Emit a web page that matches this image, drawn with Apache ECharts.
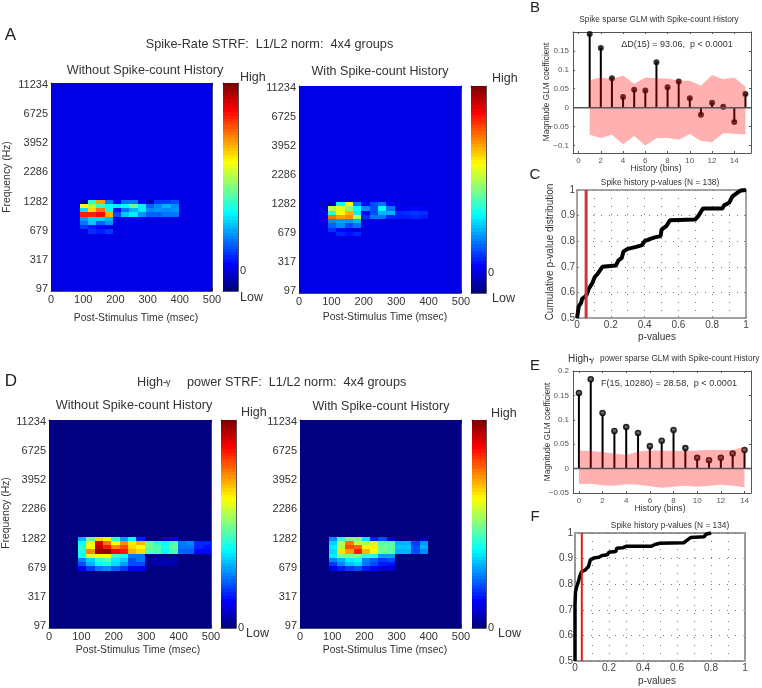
<!DOCTYPE html>
<html>
<head>
<meta charset="utf-8">
<style>html,body{margin:0;padding:0;background:#fff}#c{width:762px;height:688px}</style>
<script src="https://cdn.jsdelivr.net/npm/echarts@6/dist/echarts.min.js"></script>
</head>
<body>
<div id="c"></div>
<script>
// ---------- data ----------
const freqTickLabels = ['97','317','679','1282','2286','3952','6725','11234'];
const timeTicks = [0,100,200,300,400,500];
const firstActiveRow = 28, firstActiveCol = 4;

const strfSpikeWithout = [
 [.05,.42,.72,.25,.13,.24,.24,.13,.06,.18,.18,.20],
 [.62,.55,.42,.38,.36,.38,.47,.36,.22,.26,.30,.26],
 [.35,.66,.76,.38,.14,.24,.30,.36,.26,.27,.26,.27],
 [.85,.84,.87,.70,.20,.32,.36,.27,.22,.22,.24,.24],
 [.28,.33,.33,.30],
 [.24,.32,.22,.27],
 [.18,.15,.13,.10],
 [.10,.17,.15,.18]
];
const strfSpikeWith = [
 [.06,.38,.62,.25,.13,.20,.24,.13,.10,.10,.10,.10],
 [.55,.60,.50,.38,.26,.20,.38,.24,.10,.12,.13,.12],
 [.42,.62,.70,.36,.12,.20,.30,.30,.16,.17,.18,.17],
 [.76,.72,.74,.55,.17,.24,.24,.16,.15,.15,.16,.15],
 [.26,.28,.27,.30],
 [.22,.26,.20,.24],
 [.17,.13,.12,.10],
 [.10,.16,.14,.16]
];
const strfPowerWithout = [
 [.30,.48,.66,.64,.42,.28,.38,.15,0,0,.07,.10,.02],
 [.38,.60,.90,.76,.62,.74,.64,.70,.48,.42,.38,.45,.24,.26,.16,.16],
 [.42,.62,.94,.85,.74,.80,.66,.62,.48,.45,.40,.47,.24,.24,.16,.14],
 [.40,.74,.97,.98,.88,.85,.70,.66,.46,.45,.37,.44,.22,.22,.13,.13],
 [.40,.60,.62,.62,.44,.40,.24,.24],
 [.25,.33,.42,.46,.36,.33,.20,.24,.02,.04,.05,.05],
 [.20,.30,.38,.40,.34,.28,.20,.20,.02,.05,.05,.04],
 [.12,.18,.24,.26,.22,.18,.12,.12]
];
const strfPowerWith = [
 [.26,.42,.50,.50,.35,.15,.20,.08,0,0,0,.05],
 [.33,.55,.76,.56,.55,.58,.46,.46,.30,.30,.18,.27],
 [.36,.55,.80,.78,.62,.64,.48,.47,.32,.32,.20,.30],
 [.34,.65,.72,.85,.70,.62,.48,.46,.30,.30,.20,.26],
 [.36,.50,.50,.50,.42,.40,.28,.28],
 [.25,.30,.36,.38,.25,.22,.18,.20],
 [.18,.26,.32,.34,.24,.20,.15,.14],
 [.10,.15,.18,.20,.15,.12,.08,.08]
];

const histBinsB = [1,2,3,4,5,6,7,8,9,10,11,12,13,14,15];
const coefB = [.195,.158,.078,.028,.047,.045,.12,.054,.069,.025,-.019,.013,.002,-.038,.036];
const bandUpB = [.073,.080,.076,.085,.063,.080,.078,.077,.072,.071,.058,.086,.075,.080,.055];
const bandLowB = [-.072,-.080,-.072,-.097,-.075,-.100,-.081,-.080,-.085,-.070,-.088,-.091,-.068,-.069,-.071];

const histBinsE = [0,1,2,3,4,5,6,7,8,9,10,11,12,13,14];
const coefE = [.155,.183,.114,.077,.085,.073,.046,.057,.079,.042,.022,.017,.022,.031,.038];
const bandUpE = [.037,.036,.034,.031,.028,.035,.037,.037,.036,.036,.037,.038,.038,.038,.045];
const bandLowE = [-.032,-.031,-.034,-.035,-.032,-.033,-.036,-.039,-.037,-.035,-.037,-.035,-.033,-.035,-.038];

const cdfC = [[0,.5],[.005,.52],[.01,.545],[.025,.56],[.03,.575],[.05,.585],[.06,.595],[.07,.615],[.09,.635],[.105,.66],[.125,.675],[.15,.70],[.16,.705],[.23,.705],[.245,.725],[.265,.735],[.275,.76],[.3,.77],[.35,.778],[.385,.785],[.4,.8],[.43,.808],[.46,.815],[.495,.82],[.5,.845],[.53,.86],[.55,.882],[.7,.885],[.72,.9],[.745,.928],[.86,.928],[.87,.94],[.9,.95],[.92,.975],[.95,.99],[.97,.998],[1,1]];
const cdfF = [[0,.5],[0,.72],[.003,.77],[.01,.79],[.02,.81],[.03,.835],[.04,.85],[.06,.855],[.08,.87],[.09,.895],[.11,.902],[.14,.905],[.16,.912],[.19,.915],[.2,.925],[.24,.928],[.245,.94],[.28,.942],[.3,.948],[.45,.948],[.47,.955],[.5,.96],[.64,.962],[.66,.972],[.68,.982],[.76,.985],[.77,.995],[.8,1]];
const alphaC = .054, alphaF = .04;
const pTicks = [0,.2,.4,.6,.8,1];

// ---------- helpers ----------
const FONT = '"Liberation Sans", Arial, Helvetica, sans-serif';
const rowsMax = 49, colsStep = 500 / 19.5;
const clamp = v => Math.max(0, Math.min(1, v));
function jet(v){
  const f = c => Math.round(255 * clamp(1.5 - Math.abs(4 * v - c)));
  return 'rgb(' + f(3) + ',' + f(2) + ',' + f(1) + ')';
}
function snapRect(a, b){
  const x0 = Math.round(a[0]), y0 = Math.round(a[1]), x1 = Math.round(b[0]), y1 = Math.round(b[1]);
  return {x:x0, y:y0, width:x1 - x0, height:y1 - y0};
}
const grids = [], xAxes = [], yAxes = [], series = [], texts = [];
function txt(x, y, text, size, o){
  o = o || {};
  texts.push({type:'text', x, y, rotation:o.rot || 0, silent:true, z:20,
    style:{text, fill:o.color || '#333', font:size + 'px ' + FONT, textAlign:o.align || 'center', textVerticalAlign:'middle', verticalAlign:'middle'}});
}
function addBox(r, xc, yc, style){
  const gi = grids.length;
  grids.push({left:r[0], top:r[1], width:r[2]-r[0], height:r[3]-r[1], containLabel:false});
  const col = style.line, lw = style.lineWidth || 1, tl = style.tickLen === undefined ? 3 : style.tickLen;
  const lab = {show:true, color:style.labelColor || '#444', fontFamily:FONT, fontSize:style.fontSize, margin:style.margin === undefined ? 3 : style.margin};
  const base = {gridIndex:gi, type:'value', axisLine:{show:true, onZero:false, lineStyle:{color:col, width:lw}}, splitLine:{show:false}};
  const tick = {show:tl > 0, inside:true, length:tl, lineStyle:{color:style.tick || col, width:1}};
  const mk = (c, pos, main) => {
    const a = Object.assign({}, base, {position:pos, min:c.min, max:c.max});
    a.axisTick = Object.assign({}, tick);
    if (c.custom) a.axisTick.customValues = c.custom;
    if (c.interval) a.interval = c.interval;
    a.axisLabel = main ? Object.assign({}, lab) : {show:false};
    if (main && c.custom) a.axisLabel.customValues = c.custom;
    if (main && c.formatter) a.axisLabel.formatter = c.formatter;
    if (main && !c.formatter) a.axisLabel.formatter = v => String(+(+v).toFixed(3)).replace('-', '\u2212');
    if (main) { a.axisLabel.showMinLabel = true; a.axisLabel.showMaxLabel = true; a.axisLabel.hideOverlap = false; }
    return a;
  };
  const xi = xAxes.length, yi = yAxes.length;
  xAxes.push(mk(xc, 'bottom', true));
  const xt = mk(xc, 'top', false);
  yAxes.push(mk(yc, 'left', true));
  const yr = mk(yc, 'right', false);
  if (style.dotted) {
    xt.axisTick = {show:false};
    xt.interval = .1;
    xt.splitLine = {show:true, lineStyle:{color:'#777', width:1, type:[1,7]}};
    yr.interval = .1;
    yr.axisTick = {show:true, inside:true, length:tl, lineStyle:{color:col}};
    yr.splitLine = {show:true, lineStyle:{color:'#777', width:1, type:[1,7]}};
  }
  if (style.lineTop) xt.axisLine.lineStyle = {color:style.lineTop, width:style.lineTopWidth || lw};
  if (style.lineRight) yr.axisLine.lineStyle = {color:style.lineRight, width:style.lineRightWidth || lw};
  if (style.lineBottom) xAxes[xi].axisLine.lineStyle = {color:style.lineBottom, width:lw};
  xAxes.push(xt); yAxes.push(yr);
  return {xi, yi};
}

function strfPanel(rect, rows, bg){
  const tickPos = freqTickLabels.map((_, i) => .5 + i * 48 / 7);
  const ids = addBox(rect,
    {min:0, max:500, interval:100},
    {min:0, max:rowsMax, custom:tickPos, formatter:v => freqTickLabels[Math.round((v - .5) * 7 / 48)]},
    {line:'#3c4a78', tick:'#223', fontSize:11, labelColor:'#333', margin:3, tickLen:3});
  const data = [];
  for (let r = 0; r <= rowsMax; r++) for (let c = 0; c < 20; c++) {
    const row = rows[r - firstActiveRow];
    let v = row ? row[c - firstActiveCol] : undefined;
    if (v === undefined) v = bg;
    data.push([c * colsStep, rowsMax - r, v]);
  }
  series.push({type:'custom', xAxisIndex:ids.xi, yAxisIndex:ids.yi, coordinateSystem:'cartesian2d', clip:true, silent:true, z:1,
    encode:{x:0, y:1}, data,
    renderItem(params, api){
      const a = api.coord([api.value(0) - colsStep / 2, api.value(1) + .5]);
      const b = api.coord([api.value(0) + colsStep / 2, api.value(1) - .5]);
      const cs = params.coordSys;
      const clipped = echarts.graphic.clipRectByRect({x:a[0], y:a[1], width:b[0]-a[0], height:b[1]-a[1]},
        {x:cs.x, y:cs.y, width:cs.width, height:cs.height});
      if (!clipped) return;
      return {type:'rect', shape:snapRect([clipped.x, clipped.y], [clipped.x + clipped.width, clipped.y + clipped.height]),
        style:{fill:jet(api.value(2)), stroke:null}};
    }});
}
function colorbar(rect, ticks){
  const ids = addBox(rect, {min:0, max:1, custom:[]}, {min:0, max:1, custom:ticks, formatter:() => ''},
    {line:'#555', tick:'#222', fontSize:1, tickLen:2});
  xAxes[ids.xi].axisLabel = {show:false};
  xAxes[ids.xi].axisTick = {show:false};
  xAxes[ids.xi + 1].axisTick = {show:false};
  yAxes[ids.yi].axisLabel = {show:false};
  const levels = [];
  for (let i = 0; i < 64; i++) levels.push([.5, (i + .5) / 64, i / 63]);
  series.push({type:'custom', xAxisIndex:ids.xi, yAxisIndex:ids.yi, coordinateSystem:'cartesian2d', silent:true, z:1,
    encode:{x:0, y:1}, data:levels,
    renderItem(params, api){
      const a = api.coord([0, api.value(1) + 1/128]), b = api.coord([1, api.value(1) - 1/128]);
      return {type:'rect', shape:snapRect(a, b), style:{fill:jet(api.value(2)), stroke:null}};
    }});
}
function stemPanel(rect, bins, coef, up, low, xc, yc, open){
  const ids = addBox(rect, xc, yc, {line:'#555', fontSize:8, labelColor:'#555', margin:4, tickLen:2});
  const axes = {xAxisIndex:ids.xi, yAxisIndex:ids.yi, silent:true};
  const pts = bins.map((b, i) => [b, coef[i]]);
  series.push(Object.assign({type:'bar', barWidth:2, itemStyle:{color:'#000'}, data:pts, z:2}, axes));
  series.push(Object.assign({type:'scatter', symbolSize:open ? 5 : 6,
    itemStyle:open ? {color:'#555', borderColor:'#000', borderWidth:1.6} : {color:'#000'}, data:pts, z:3, clip:false}, axes));
  [up, low].forEach(arr => series.push(Object.assign({type:'line', symbol:'none', lineStyle:{width:0},
    areaStyle:{color:'rgba(255,0,0,0.31)', opacity:1}, data:bins.map((b, i) => [b, arr[i]]), z:4}, axes)));
  series.push(Object.assign({type:'line', symbol:'none', lineStyle:{color:'#555', width:1.5},
    data:[[xc.min, 0], [xc.max, 0]], z:5}, axes));
}
function cdfPanel(rect, curve, alpha, st){
  const ids = addBox(rect, {min:0, max:1, custom:pTicks}, {min:.5, max:1, interval:.1},
    Object.assign({fontSize:10, labelColor:'#444', margin:2, dotted:true, tickLen:2}, st));
  const axes = {xAxisIndex:ids.xi, yAxisIndex:ids.yi, silent:true, symbol:'none'};
  series.push(Object.assign({type:'line', data:curve, lineStyle:{color:'#000', width:st.curveWidth}, z:3, clip:false}, axes));
  series.push(Object.assign({type:'line', data:[[alpha, .5], [alpha, 1]], lineStyle:{color:st.red, width:st.redWidth}, z:4}, axes));
}

// ---------- layout ----------
strfPanel([51,83,212,291], strfSpikeWithout, .1);
colorbar([223,83,238,291], [.0976,.3,.5,.7,.9]);
strfPanel([299,86,461,293], strfSpikeWith, .1);
colorbar([471,86,486,293], [.0976,.3,.5,.7,.9]);
strfPanel([49,420,211,628], strfPowerWithout, 0);
colorbar([221,420,236,628], [.125,.25,.375,.5,.625,.75,.875]);
strfPanel([300,420,461,628], strfPowerWith, 0);
colorbar([472,420,486,628], [.125,.25,.375,.5,.625,.75,.875]);

const evens = [0,2,4,6,8,10,12,14];
stemPanel([573,32,751,153], histBinsB, coefB, bandUpB, bandLowB,
  {min:-.5, max:15.5, custom:evens}, {min:-.12, max:.2, custom:[-.1,-.05,0,.05,.1,.15]}, false);
stemPanel([573,371,751,493], histBinsE, coefE, bandUpE, bandLowE,
  {min:-.5, max:14.55, custom:evens.concat()}, {min:-.05, max:.2, interval:.05}, true);
cdfPanel([577,190,746,318], cdfC, alphaC, {line:'#888', lineWidth:1.5, curveWidth:4, red:'#c8383c', redWidth:3});
cdfPanel([575,533,745,661], cdfF, alphaF, {line:'#bbb', lineTop:'#777', lineTopWidth:1.5, curveWidth:3.5, red:'#e8181c', redWidth:2});

// ---------- text ----------
txt(10.5, 35, 'A', 17, {color:'#222'});
txt(11, 381, 'D', 17, {color:'#222'});
txt(535, 8, 'B', 15, {color:'#222'});
txt(535, 175, 'C', 15, {color:'#222'});
txt(535, 366, 'E', 15, {color:'#222'});
txt(535, 517, 'F', 15, {color:'#222'});

txt(269.5, 44, 'Spike-Rate STRF:  L1/L2 norm:  4x4 groups', 12.7);
txt(145, 70, 'Without Spike-count History', 12.7);
txt(380, 72, 'With Spike-count History', 12.5);
txt(137, 382, 'High-', 12.7, {align:'left'});
txt(166, 383, '\u03b3', 9, {align:'left'});
txt(187, 382, 'power STRF:  L1/L2 norm:  4x4 groups', 12.7, {align:'left'});
txt(134, 405, 'Without Spike-count History', 12.7);
txt(381, 407, 'With Spike-count History', 12.5);

txt(136, 318, 'Post-Stimulus Time (msec)', 10.4);
txt(385, 317, 'Post-Stimulus Time (msec)', 10.4);
txt(138, 650, 'Post-Stimulus Time (msec)', 10.4);
txt(385, 650, 'Post-Stimulus Time (msec)', 10.4);
txt(7, 177, 'Frequency (Hz)', 10.4, {rot:Math.PI/2});
txt(6, 513, 'Frequency (Hz)', 10.4, {rot:Math.PI/2});

txt(240, 78, 'High', 12.5, {align:'left'});
txt(240, 271, '0', 11, {align:'left'});
txt(240, 298, 'Low', 12.5, {align:'left'});
txt(492, 79, 'High', 12.5, {align:'left'});
txt(488, 273, '0', 11, {align:'left'});
txt(492, 299, 'Low', 12.5, {align:'left'});
txt(241, 413, 'High', 12.5, {align:'left'});
txt(238, 628, '0', 11, {align:'left'});
txt(246, 634, 'Low', 12.5, {align:'left'});
txt(491, 414, 'High', 12.5, {align:'left'});
txt(488, 628, '0', 11, {align:'left'});
txt(498, 634, 'Low', 12.5, {align:'left'});

txt(659, 20, 'Spike sparse GLM with Spike-count History', 8.3);
txt(677, 45, '\u0394D(15) = 93.06,  p < 0.0001', 9);
txt(656, 169, 'History (bins)', 8.7);
txt(547, 92, 'Magnitude GLM coefficient', 8.3, {rot:Math.PI/2});

txt(660, 183, 'Spike history p-values (N = 138)', 8.3);
txt(657, 337, 'p-values', 10);
txt(550, 252, 'Cumulative p-value distribution', 10, {rot:Math.PI/2});

txt(568, 359, 'High-', 10, {align:'left'});
txt(590, 360, '\u03b3', 8, {align:'left'});
txt(600, 359, 'power sparse GLM with Spike-count History', 8.2, {align:'left'});
txt(669, 383, 'F(15, 10280) = 28.58,  p < 0.0001', 9.1);
txt(660, 509, 'History (bins)', 8.7);
txt(548, 432, 'Magnitude GLM coefficient', 8.3, {rot:Math.PI/2});

txt(670, 526, 'Spike history p-values (N = 134)', 8.3);
txt(657, 681, 'p-values', 10);

const chart = echarts.init(document.getElementById('c'), null, {width:762, height:688});
chart.setOption({animation:false, backgroundColor:'#fff', grid:grids, xAxis:xAxes, yAxis:yAxes, series, graphic:{elements:texts}});
</script>
</body>
</html>
